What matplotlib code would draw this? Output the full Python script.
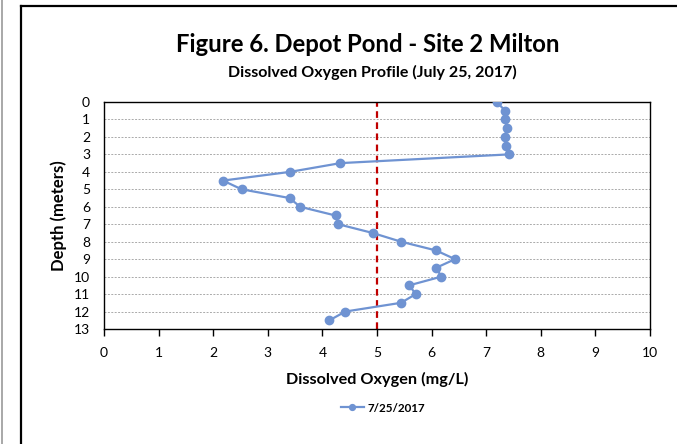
import matplotlib.pyplot as plt
from matplotlib.lines import Line2D

# dissolved oxygen profile
depth = [0, 0.5, 1, 1.5, 2, 2.5, 3, 3.5, 4, 4.5, 5, 5.5, 6, 6.5, 7, 7.5,
         8, 8.5, 9, 9.5, 10, 10.5, 11, 11.5, 12, 12.5]
do_mgl = [7.19, 7.35, 7.35, 7.38, 7.34, 7.37, 7.42, 4.33, 3.41, 2.18, 2.52, 3.40,
          3.59, 4.24, 4.29, 4.92, 5.44, 6.08, 6.43, 6.08, 6.18, 5.59, 5.71,
          5.44, 4.42, 4.13]
threshold = 5
x_ticks = list(range(0, 11))
y_ticks = list(range(0, 14))

plt.rcParams['font.family'] = ['Lato', 'DejaVu Sans']

fig = plt.figure(figsize=(6.77, 4.44), dpi=100)
W, H = 677, 444

# outer border like the pasted chart frame
fig.add_artist(Line2D([21 / W, 21 / W], [0, 1 - 6 / H], color='black', lw=1.6,
                      transform=fig.transFigure))
fig.add_artist(Line2D([21 / W, 1], [1 - 6 / H, 1 - 6 / H], color='black', lw=1.6,
                      transform=fig.transFigure))
fig.add_artist(Line2D([1.5 / W, 1.5 / W], [0, 1], color='#999999', lw=1.2,
                      transform=fig.transFigure))

ax = fig.add_axes([104 / W, 1 - 329 / H, (650 - 104) / W, (329 - 102) / H])

for d in y_ticks[1:-1]:
    ax.axhline(d, color='#aaaaaa', lw=0.7, ls=(0, (2, 1.5)), zorder=1)

ax.plot(do_mgl, depth, color='#6f93d2', lw=1.6, marker='o', markersize=6,
        label='7/25/2017', zorder=3)
ax.axvline(threshold, color='#c00000', lw=1.6, ls=(0, (3, 2)), zorder=2)

ax.set_xlim(0, 10)
ax.set_ylim(13, 0)
ax.set_xticks(x_ticks)
ax.set_yticks(y_ticks)
ax.tick_params(axis='y', length=0, pad=10, labelsize=10)
ax.tick_params(axis='x', length=5, width=1, direction='out', pad=8, labelsize=10)
for s in ax.spines.values():
    s.set_color('black')
    s.set_linewidth(1.0)

ax.set_xlabel('Dissolved Oxygen (mg/L)', fontsize=11.7, fontweight='bold', labelpad=9)
ax.set_ylabel('Depth (meters)', fontsize=12, fontweight='bold', labelpad=5)

fig.text(368 / W, 1 - 45 / H, 'Figure 6. Depot Pond - Site 2 Milton', ha='center',
         va='center', fontsize=17.2, fontweight='bold')
fig.text(372 / W, 1 - 72 / H, 'Dissolved Oxygen Profile (July 25, 2017)', ha='center',
         va='center', fontsize=11.5, fontweight='bold')

fig.legend(loc='center', bbox_to_anchor=(383 / W, 1 - 408 / H), frameon=False,
           prop={'weight': 'bold', 'size': 8.4}, handlelength=2.0,
           handletextpad=0.3, markerscale=0.7)

fig.savefig('out.png', dpi=100)
